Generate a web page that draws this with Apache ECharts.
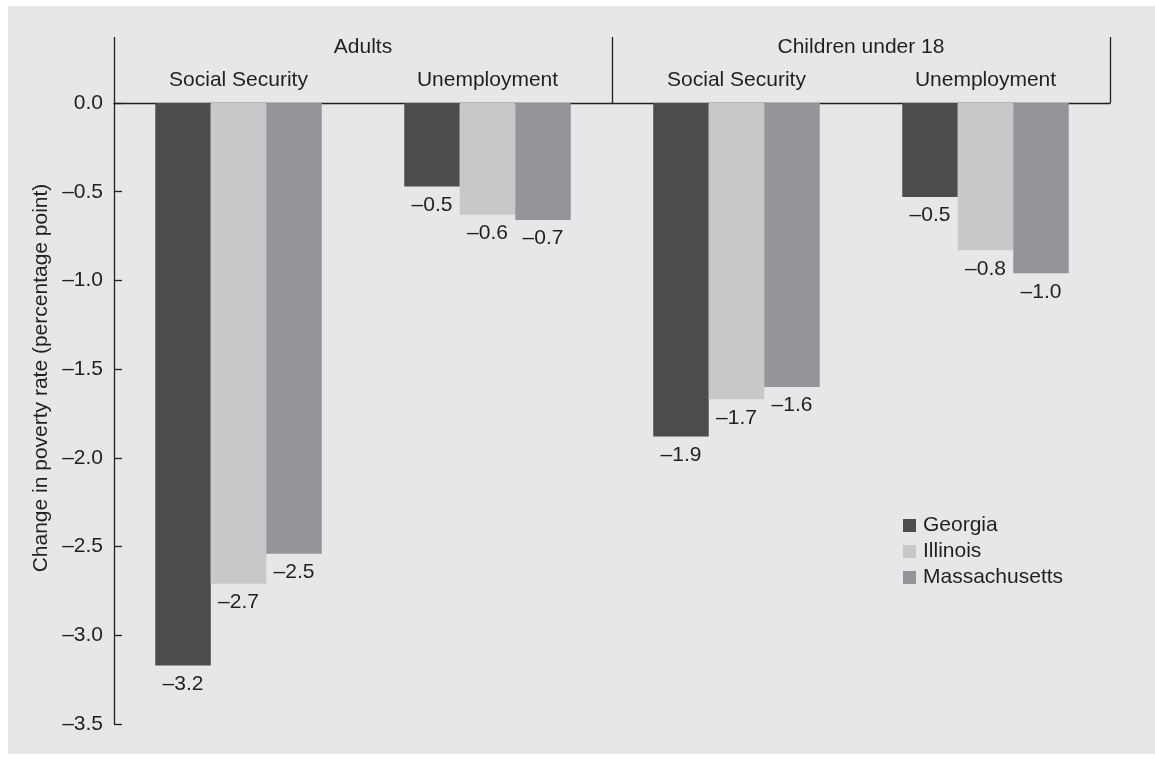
<!DOCTYPE html>
<html>
<head>
    <meta charset="utf-8">
    <title>Change in poverty rate</title>
    <script src="https://cdn.jsdelivr.net/npm/echarts@6/dist/echarts.min.js"></script>
    <style>
        body {
            margin: 0;
            background: #fff;
        }

        #chart {
            width: 1155px;
            height: 760px;
        }
    </style>
</head>
<body>
<div id="chart"></div>
<script type="text/javascript">
    // programs (inner row of the header) and population groups (outer row)
    var programs = ['Social Security', 'Unemployment', 'Social Security', 'Unemployment'];
    var groups = ['Adults', 'Children under 18'];

    // change in poverty rate, percentage points
    var georgia = [-3.17, -0.47, -1.88, -0.53];
    var illinois = [-2.71, -0.63, -1.67, -0.83];
    var massachusetts = [-2.54, -0.66, -1.60, -0.96];

    var yMin = -3.5;
    var yMax = 0;
    var yStep = 0.5;

    var font = "'Liberation Sans', Arial, sans-serif";
    var fs = 21;
    var ink = '#231f20';

    function dash(v) {
        return v.toFixed(1).replace('-', '\u2013');
    }

    function barSeries(name, data, color) {
        return {
            name: name,
            type: 'bar',
            xAxisIndex: 0,
            data: data,
            barWidth: 55.5,
            barGap: '0%',
            itemStyle: {color: color},
            label: {
                show: true,
                position: 'bottom',
                distance: 8,
                fontFamily: font,
                fontSize: fs,
                color: ink,
                formatter: function (p) {
                    return dash(p.value);
                }
            }
        };
    }

    var chart = echarts.init(document.getElementById('chart'));

    chart.setOption({
        backgroundColor: '#fff',
        animation: false,
        textStyle: {fontFamily: font},
        graphic: [{
            type: 'rect',
            z: -10,
            silent: true,
            shape: {x: 8, y: 6, width: 1147, height: 748},
            style: {fill: '#e6e7e8'}
        }, {
            type: 'text',
            x: 41,
            y: 378,
            rotation: Math.PI / 2,
            style: {
                text: 'Change in poverty rate (percentage point)',
                fontFamily: font,
                fontSize: fs,
                fill: ink,
                align: 'center',
                verticalAlign: 'middle'
            }
        }],
        legend: {
            orient: 'vertical',
            left: 898,
            top: 510,
            itemWidth: 13,
            itemHeight: 13,
            itemGap: 5,
            icon: 'rect',
            textStyle: {
                fontFamily: font,
                fontSize: fs,
                lineHeight: 21,
                color: ink,
                padding: [0, 0, 0, 2]
            },
            data: ['Georgia', 'Illinois', 'Massachusetts']
        },
        grid: {
            left: 114,
            top: 103,
            width: 996,
            height: 621
        },
        xAxis: [{
            type: 'category',
            position: 'top',
            data: programs,
            axisLine: {
                show: true,
                onZero: false,
                lineStyle: {color: ink, width: 1.3}
            },
            axisTick: {show: false},
            axisLabel: {
                interval: 0,
                margin: 12,
                fontFamily: font,
                fontSize: fs,
                color: ink
            }
        }, {
            type: 'category',
            position: 'top',
            data: groups,
            axisLine: {show: false, onZero: false},
            axisTick: {
                show: true,
                interval: 0,
                length: 66,
                lineStyle: {color: ink, width: 1.3}
            },
            axisLabel: {
                interval: 0,
                margin: 45,
                fontFamily: font,
                fontSize: fs,
                color: ink
            }
        }],
        yAxis: {
            type: 'value',
            min: yMin,
            max: yMax,
            interval: yStep,
            splitLine: {show: false},
            axisLine: {
                show: true,
                lineStyle: {color: ink, width: 1.3}
            },
            axisTick: {
                show: true,
                inside: true,
                length: 8,
                lineStyle: {color: ink, width: 1.3}
            },
            axisLabel: {
                margin: 11,
                fontFamily: font,
                fontSize: fs,
                color: ink,
                formatter: function (v) {
                    return dash(v);
                }
            }
        },
        series: [
            barSeries('Georgia', georgia, '#4b4c4e'),
            barSeries('Illinois', illinois, '#c7c8ca'),
            barSeries('Massachusetts', massachusetts, '#939598')
        ]
    });
</script>
</body>
</html>
